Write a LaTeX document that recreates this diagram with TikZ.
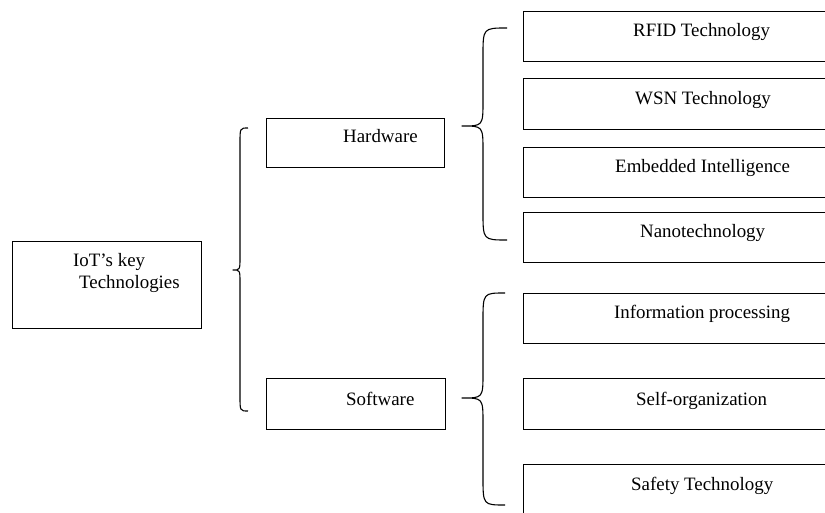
\documentclass[tikz,border=0pt]{standalone}
\usepackage{fontspec}
\setmainfont{Liberation Serif}
\begin{document}
\begin{tikzpicture}[x=1pt,y=-1pt,
  box/.style={draw=black, line width=1pt, rectangle, inner sep=0pt, anchor=north west},
  txt/.style={anchor=base west, inner sep=0pt, font=\fontsize{18.9}{22}\selectfont},
  brace/.style={draw=black, line width=1.1pt, line join=round}]
\useasboundingbox (0,0) rectangle (825,513);
\clip (0,0) rectangle (825,513);
\fill[white] (0,0) rectangle (825,513);
% left box
\node[box, minimum width=189pt, minimum height=87pt] (iot) at (12,241) {};
\node[txt] (iott1) at (73,267) {IoT’s key};
\node[txt] (iott2) at (79,289) {Technologies};
% middle boxes
\node[box, minimum width=178pt, minimum height=49pt] (hw) at (266,118) {};
\node[txt] (hwt) at (343,143) {Hardware};
\node[box, minimum width=179pt, minimum height=51pt] (sw) at (266,378) {};
\node[txt] (swt) at (346,405) {Software};
% right boxes
\node[box, minimum width=320pt, minimum height=50pt] (rfid) at (523,11) {};
\node[txt] (rfidt) at (633,37) {RFID Technology};
\node[box, minimum width=320pt, minimum height=51pt] (wsn) at (523,78) {};
\node[txt] (wsnt) at (635,105) {WSN Technology};
\node[box, minimum width=320pt, minimum height=50pt] (emb) at (523,147) {};
\node[txt] (embt) at (615,173) {Embedded Intelligence};
\node[box, minimum width=320pt, minimum height=50pt] (nano) at (523,212) {};
\node[txt] (nanot) at (640,238) {Nanotechnology};
\node[box, minimum width=320pt, minimum height=50pt] (info) at (523,293) {};
\node[txt] (infot) at (614,319) {Information processing};
\node[box, minimum width=320pt, minimum height=51pt] (self) at (523,378) {};
\node[txt] (selft) at (636,405) {Self-organization};
\node[box, minimum width=320pt, minimum height=70pt] (safe) at (523,464) {};
\node[txt] (safet) at (631,490) {Safety Technology};
% big brace
\draw[brace] (248,128) .. controls (240,128) .. (240,143) -- (240,257)
  .. controls (240,270) .. (233,270) .. controls (240,270) .. (240,283)
  -- (240,396) .. controls (240,411) .. (248,411);
% hardware brace
\draw[brace] (507,28) .. controls (483,28) .. (483,56) -- (483,101)
  .. controls (483,126) .. (462,126) .. controls (483,126) .. (483,151)
  -- (483,212) .. controls (483,240) .. (507,240);
% software brace
\draw[brace] (505,293) .. controls (483,293) .. (483,321) -- (483,373)
  .. controls (483,398) .. (462,398) .. controls (483,398) .. (483,423)
  -- (483,477) .. controls (483,505) .. (505,505);
\end{tikzpicture}
\end{document}
